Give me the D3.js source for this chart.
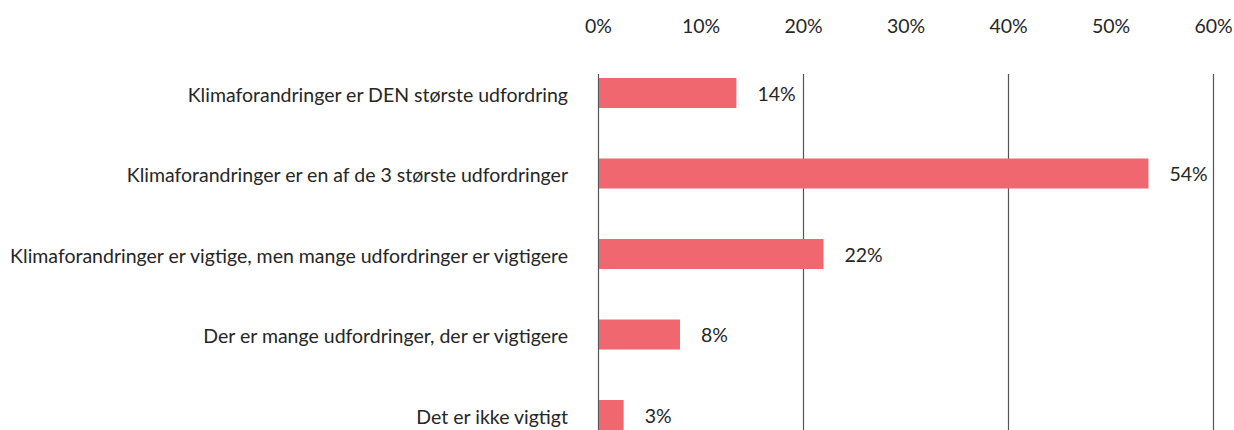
<!DOCTYPE html>
<html>
<head>
<meta charset="utf-8">
<script src="https://cdn.jsdelivr.net/npm/d3@7"></script>
<style>
  html, body { margin: 0; padding: 0; background: #fff; }
  svg { display: block; }
  text { font-family: Lato, "Open Sans", sans-serif; fill: #262626; }
</style>
</head>
<body>
<svg id="chart" width="1234" height="430"></svg>
<script>
const categories = [
  "Klimaforandringer er DEN største udfordring",
  "Klimaforandringer er en af de 3 største udfordringer",
  "Klimaforandringer er vigtige, men mange udfordringer er vigtigere",
  "Der er mange udfordringer, der er vigtigere",
  "Det er ikke vigtigt"
];
const values = [0.135, 0.537, 0.22, 0.08, 0.025];
const valueLabels = ["14%", "54%", "22%", "8%", "3%"];
const tickValues = [0, 0.1, 0.2, 0.3, 0.4, 0.5, 0.6];
const gridValues = [0, 0.2, 0.4, 0.6];

const svg = d3.select("#chart");
const W = 1234, H = 430;
const FS = 19.5;
const FONT = "Lato, 'Open Sans', sans-serif";

const x = d3.scaleLinear().domain([0, 0.6]).range([598, 1213]);
const y = d3.scaleBand().domain(categories).range([52.75, 455.25]).paddingInner(0.627).paddingOuter(0.3135);

// gridlines
const gridTop = 74, gridBottom = H;
svg.append("g")
  .attr("transform", `translate(0,${gridTop})`)
  .call(d3.axisBottom(x).tickValues(gridValues).tickSize(gridBottom - gridTop).tickFormat(""))
  .call(g => g.select(".domain").remove())
  .call(g => g.selectAll("line").attr("stroke", "#555").attr("stroke-width", 1.2));

// top tick labels
svg.append("g")
  .attr("transform", `translate(0,33)`)
  .call(d3.axisTop(x).tickValues(tickValues).tickSize(0).tickPadding(0).tickFormat(d3.format(".0%")))
  .call(g => g.select(".domain").remove())
  .call(g => g.selectAll("text").attr("font-size", FS).attr("fill", "#262626").style("font-family", FONT));

// bars
svg.append("g").selectAll("rect")
  .data(categories)
  .join("rect")
  .attr("x", x(0) + 1)
  .attr("y", d => y(d))
  .attr("width", (d, i) => x(values[i]) - x(0) - 1)
  .attr("height", y.bandwidth())
  .attr("fill", "#f1676f");

// value labels
svg.append("g").selectAll("text")
  .data(categories)
  .join("text")
  .attr("x", (d, i) => x(values[i]) + 21)
  .attr("y", d => y(d) + y.bandwidth() / 2)
  .attr("dy", "0.4em")
  .attr("font-size", FS)
  .text((d, i) => valueLabels[i]);

// category labels
svg.append("g")
  .attr("transform", `translate(568,0)`)
  .call(d3.axisLeft(y).tickSize(0).tickPadding(0))
  .call(g => g.select(".domain").remove())
  .call(g => g.selectAll("text").attr("font-size", FS).attr("fill", "#262626").attr("dy", "0.45em").style("font-family", FONT));
</script>
</body>
</html>
